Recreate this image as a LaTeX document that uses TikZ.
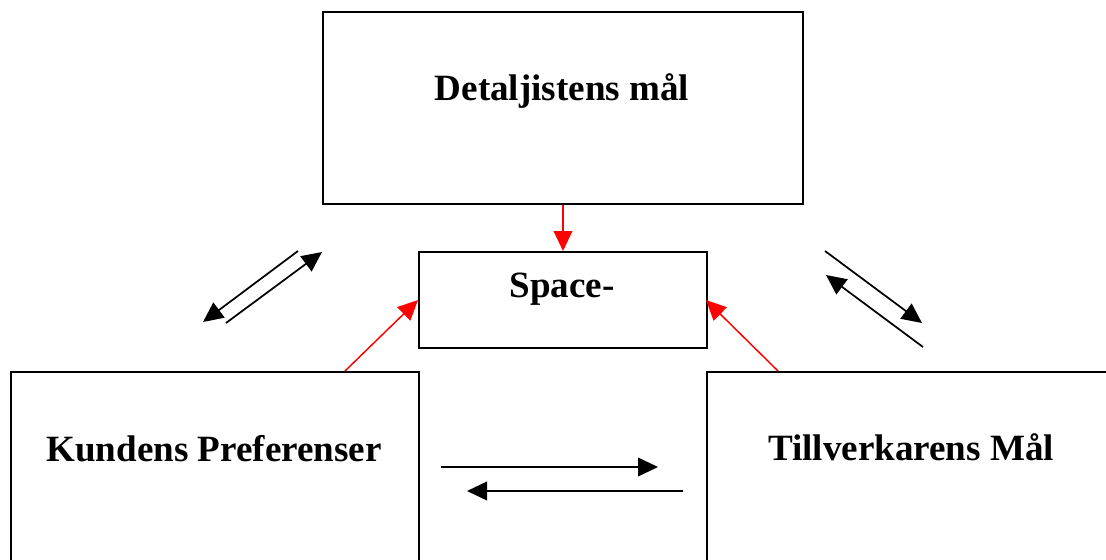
\documentclass[tikz,border=0pt]{standalone}
\usepackage{fontspec}
\setmainfont{Liberation Serif}
\usetikzlibrary{arrows.meta}
\begin{document}
\begin{tikzpicture}[x=0.75pt,y=-0.75pt,
  box/.style={draw=black, line width=1.5pt, fill=white, inner sep=0pt, anchor=north west},
  lbl/.style={font=\fontsize{27.8pt}{30pt}\selectfont\bfseries, anchor=base, inner sep=0pt},
  redarr/.style={draw=red, line width=1.1pt, -{Triangle[length=15pt,width=14pt]}},
  blkarr/.style={draw=black, line width=1.3pt, -{Triangle[length=15pt,width=14pt]}}]
\useasboundingbox (0,0) rectangle (1106,560);
\clip (0,0) rectangle (1106,560);
% boxes
\node[box, minimum width=480*0.75pt, minimum height=192*0.75pt] (top) at (322,11) {};
\node[box, minimum width=288*0.75pt, minimum height=96*0.75pt] (space) at (418,251) {};
\node[box, minimum width=408*0.75pt, minimum height=240*0.75pt] (kund) at (10,371) {};
\node[box, minimum width=520*0.75pt, minimum height=240*0.75pt] (till) at (706,371) {};
% labels
\node[lbl] (ttop) at (562,100) {Detaljistens mål};
\node[lbl] (tspace) at (562,297) {Space-};
\node[lbl] (tkund) at (214,461) {Kundens Preferenser};
\node[lbl] (ttill) at (911,460) {Tillverkarens Mål};
% red connectors
\coordinate (kr) at (345,371);
\coordinate (sl) at (418,300);
\coordinate (tr) at (778,371);
\coordinate (sr) at (706,300);
\draw[redarr] (top.south) -- (space.north);
\draw[redarr] (kr) -- (sl);
\draw[redarr] (tr) -- (sr);
% black double arrows left
\coordinate (a1) at (298,251); \coordinate (a2) at (203,322);
\coordinate (b1) at (226,323); \coordinate (b2) at (322,252);
\draw[blkarr] (a1) -- (a2);
\draw[blkarr] (b1) -- (b2);
% right
\coordinate (c1) at (825,251); \coordinate (c2) at (922,323);
\coordinate (d1) at (923,347); \coordinate (d2) at (826,275);
\draw[blkarr] (c1) -- (c2);
\draw[blkarr] (d1) -- (d2);
% bottom
\coordinate (e1) at (441,467); \coordinate (e2) at (658,467);
\coordinate (f1) at (683,491); \coordinate (f2) at (467,491);
\draw[blkarr] (e1) -- (e2);
\draw[blkarr] (f1) -- (f2);
\end{tikzpicture}
\end{document}
